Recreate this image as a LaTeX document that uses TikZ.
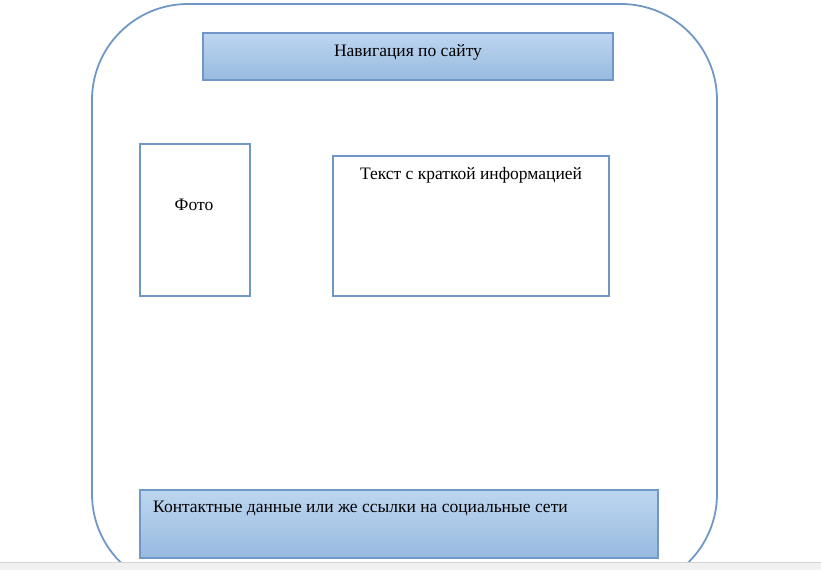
\documentclass[tikz,border=0pt]{standalone}
\usepackage{fontspec}
\setmainfont{Liberation Serif}
\definecolor{edge}{HTML}{7098C6}
\definecolor{topc}{HTML}{BDD6F0}
\definecolor{botc}{HTML}{98BADF}
\definecolor{barfill}{HTML}{F0F0F0}
\definecolor{barline}{HTML}{D4D4D4}
\tikzset{
  plainbox/.style={draw=edge, line width=1.5pt, fill=white},
  gradbox/.style={draw=edge, line width=1.5pt, top color=topc, bottom color=botc},
  lbl/.style={font=\fontsize{17.5}{20}\selectfont, inner sep=0pt},
}
\begin{document}
\begin{tikzpicture}[x=1pt,y=-1pt]
\useasboundingbox (0,0) rectangle (821,570);
\begin{scope}
\clip (0,0) rectangle (821,562);
\draw[edge, line width=1.8pt, rounded corners=96pt] (92,4) rectangle (717,590);
\end{scope}
\fill[barfill] (0,562) rectangle (821,570);
\draw[barline, line width=0.8pt] (0,562) -- (821,562);

\draw[gradbox] (203,33) rectangle (613,80);
\node[lbl] (nav) at (408,52) {Навигация по сайту};

\draw[plainbox] (140,144) rectangle (250,296);
\node[lbl] (photo) at (194,205) {Фото};

\draw[plainbox] (333,156) rectangle (609,296);
\node[lbl] (info) at (471,175) {Текст с краткой информацией};

\draw[gradbox] (140,490) rectangle (658,558);
\node[lbl, anchor=west] (contacts) at (153,508) {Контактные данные или же ссылки на социальные сети};
\end{tikzpicture}
\end{document}
